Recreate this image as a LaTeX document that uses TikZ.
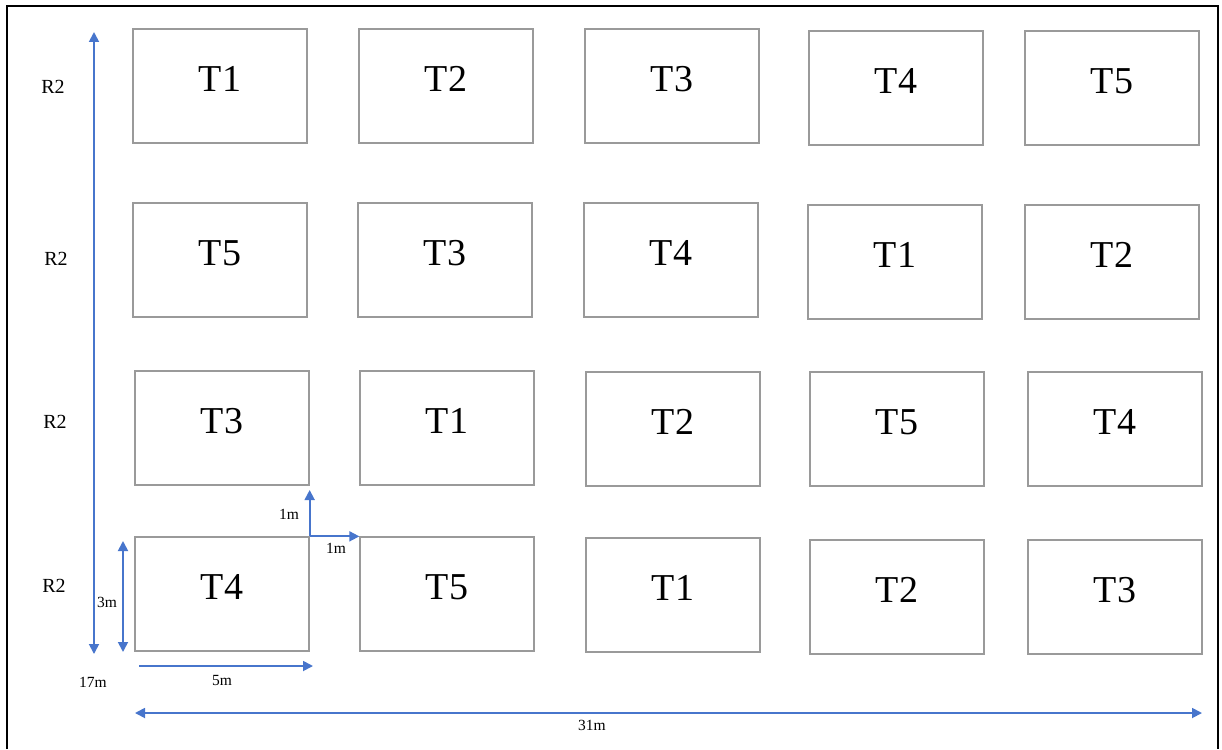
\documentclass[tikz,border=0pt]{standalone}
\usepackage{fontspec}
\setmainfont{Liberation Serif}
\usetikzlibrary{arrows.meta}
\definecolor{boxgray}{HTML}{9A9A9A}
\definecolor{dimblue}{HTML}{4775CC}
\tikzset{
  tbox/.style={draw=boxgray, line width=1.3pt, minimum width=174pt, minimum height=114pt,
    inner sep=0pt, text depth=14pt, font=\fontsize{38}{38}\selectfont},
  rlabel/.style={inner sep=0pt, font=\fontsize{20}{20}\selectfont},
  dimlabel/.style={inner sep=0pt, font=\fontsize{15.5}{15.5}\selectfont},
  dimline/.style={draw=dimblue, line width=1.8pt},
  onehead/.style={dimline, -{Triangle[length=10pt,width=10pt]}},
  twohead/.style={dimline, {Triangle[length=10pt,width=10pt]}-{Triangle[length=10pt,width=10pt]}},
  frame/.style={draw=black, line width=2pt}
}
\begin{document}
\begin{tikzpicture}[x=1pt,y=-1pt]
\useasboundingbox (0,0) rectangle (1222,749);
% outer frame (open at bottom)
\draw[frame] (7,749) -- (7,6) -- (1218,6) -- (1218,749);

% row 1
\node[tbox] (a1) at (220,86) {T1};
\node[tbox] (a2) at (446,86) {T2};
\node[tbox] (a3) at (672,86) {T3};
\node[tbox] (a4) at (896,88) {T4};
\node[tbox] (a5) at (1112,88) {T5};
% row 2
\node[tbox] (b1) at (220,260) {T5};
\node[tbox] (b2) at (445,260) {T3};
\node[tbox] (b3) at (671,260) {T4};
\node[tbox] (b4) at (895,262) {T1};
\node[tbox] (b5) at (1112,262) {T2};
% row 3
\node[tbox] (c1) at (222,428) {T3};
\node[tbox] (c2) at (447,428) {T1};
\node[tbox] (c3) at (673,429) {T2};
\node[tbox] (c4) at (897,429) {T5};
\node[tbox] (c5) at (1115,429) {T4};
% row 4
\node[tbox] (d1) at (222,594) {T4};
\node[tbox] (d2) at (447,594) {T5};
\node[tbox] (d3) at (673,595) {T1};
\node[tbox] (d4) at (897,597) {T2};
\node[tbox] (d5) at (1115,597) {T3};

% row labels
\node[rlabel] (r1) at (53,87) {R2};
\node[rlabel] (r2) at (56,259) {R2};
\node[rlabel] (r3) at (55,422) {R2};
\node[rlabel] (r4) at (54,586) {R2};

% dimension end points
\coordinate (v17t) at (94,32);
\coordinate (v17b) at (94,654);
\coordinate (v3t) at (123,541);
\coordinate (v3b) at (123,652);
\coordinate (h5l) at (139,666);
\coordinate (h5r) at (313,666);
\coordinate (h31l) at (135,713);
\coordinate (h31r) at (1202,713);
\coordinate (up1) at (d1.north east |- 0,490);

% dimension arrows
\draw[twohead] (v17t) -- (v17b);
\draw[twohead] (v3t) -- (v3b);
\draw[onehead] (h5l) -- (h5r);
\draw[twohead] (h31l) -- (h31r);
\draw[onehead] (d1.north east) -- (up1);
\draw[onehead] (d1.north east) -- (d2.north west);

% dimension labels
\node[dimlabel] (l1v) at (289,514) {1m};
\node[dimlabel] (l1h) at (336,548) {1m};
\node[dimlabel] (l3) at (107,602) {3m};
\node[dimlabel] (l17) at (93,682) {17m};
\node[dimlabel] (l5) at (222,680) {5m};
\node[dimlabel] (l31) at (592,725) {31m};
\end{tikzpicture}
\end{document}
